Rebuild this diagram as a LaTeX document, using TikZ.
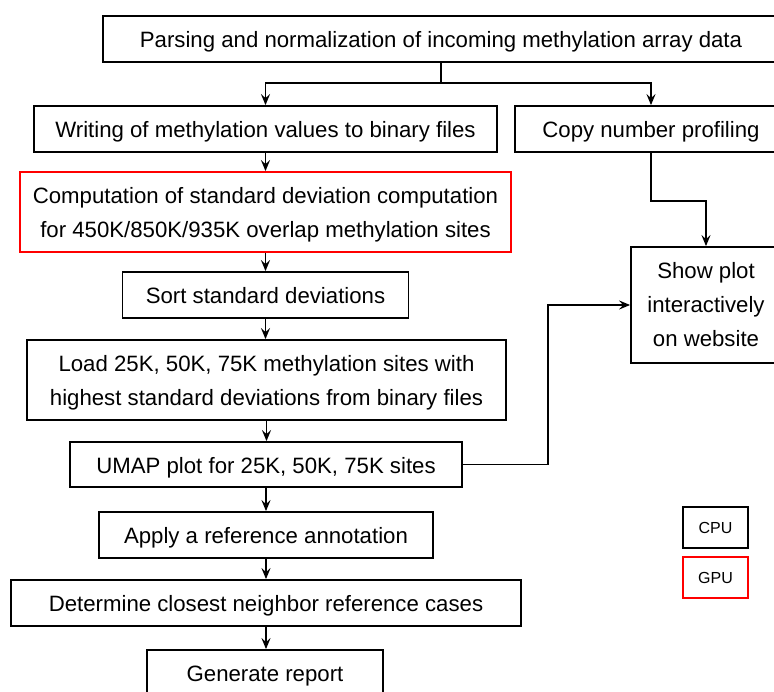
\documentclass[tikz,border=0pt]{standalone}
\usepackage{fontspec}
\setmainfont{Liberation Sans}
\usetikzlibrary{arrows.meta}
\newcommand{\toppad}{\rule{0pt}{21pt}}
\begin{document}
\begin{tikzpicture}[x=1pt,y=-1pt,
  mbox/.style={draw=black,line width=1.8pt,inner sep=0pt,align=center,
    font=\fontsize{22.2}{34}\selectfont},
  box/.style={mbox,text height=17pt,text depth=0pt},
  gbox/.style={mbox,draw=red},
  small/.style={draw=black,line width=1.5pt,inner sep=0pt,
    font=\fontsize{16}{20}\selectfont,minimum width=65pt,minimum height=41pt},
  arr/.style={line width=1.8pt,-{Stealth[length=11pt,width=9pt,inset=4pt]}},
  ln/.style={line width=1.8pt}]
\useasboundingbox (0,0) rectangle (774,691);
\clip (0,0) rectangle (774,691);
\node[box,minimum width=676pt,minimum height=46pt] (top) at (441,39) {Parsing and normalization of incoming methylation array data};
\node[box,minimum width=463pt,minimum height=46pt] (write) at (265.5,129) {Writing of methylation values to binary files};
\node[box,minimum width=272pt,minimum height=46pt] (copy) at (651,129) {Copy number profiling};
\node[gbox,minimum width=491pt,minimum height=80pt] (gpu1) at (265.5,212) {\toppad Computation of standard deviation computation\\for 450K/850K/935K overlap methylation sites};
\node[box,minimum width=286pt,minimum height=46pt] (sort) at (265.5,295) {Sort standard deviations};
\node[mbox,minimum width=479pt,minimum height=80pt] (load) at (266.5,380) {\toppad Load 25K, 50K, 75K methylation sites with\\highest standard deviations from binary files};
\node[box,minimum width=392pt,minimum height=45pt] (umap) at (266,464.5) {UMAP plot for 25K, 50K, 75K sites};
\node[mbox,minimum width=150pt,minimum height=116pt] (show) at (706,305) {Show plot\\interactively\\on website};
\node[box,minimum width=334pt,minimum height=46pt] (apply) at (266,535) {Apply a reference annotation};
\node[box,minimum width=510pt,minimum height=46pt] (det) at (266,603) {Determine closest neighbor reference cases};
\node[box,minimum width=236pt,minimum height=46pt] (gen) at (265,673) {Generate report};
\node[small] (cpu) at (715.5,527.5) {CPU};
\node[small,draw=red] (gpu) at (715.5,577.5) {GPU};
\coordinate (split) at (441,83);
\draw[ln] (top.south) -- (split);
\draw[arr] (split) -| (write.north);
\draw[arr] (split) -| (copy.north);
\draw[arr] (write.south) -- (write.south |- gpu1.north);
\draw[arr] (gpu1.south) -- (gpu1.south |- sort.north);
\draw[arr] (sort.south) -- (sort.south |- load.north);
\draw[arr] (load.south) -- (load.south |- umap.north);
\draw[arr] (umap.south) -- (umap.south |- apply.north);
\draw[arr] (apply.south) -- (apply.south |- det.north);
\draw[arr] (det.south) -- (det.south |- gen.north);
\draw[arr] (copy.south) -- ++(0,48) -| (show.north);
\draw[arr] (umap.east) -- ++(85,0) |- (show.west);
\end{tikzpicture}
\end{document}
